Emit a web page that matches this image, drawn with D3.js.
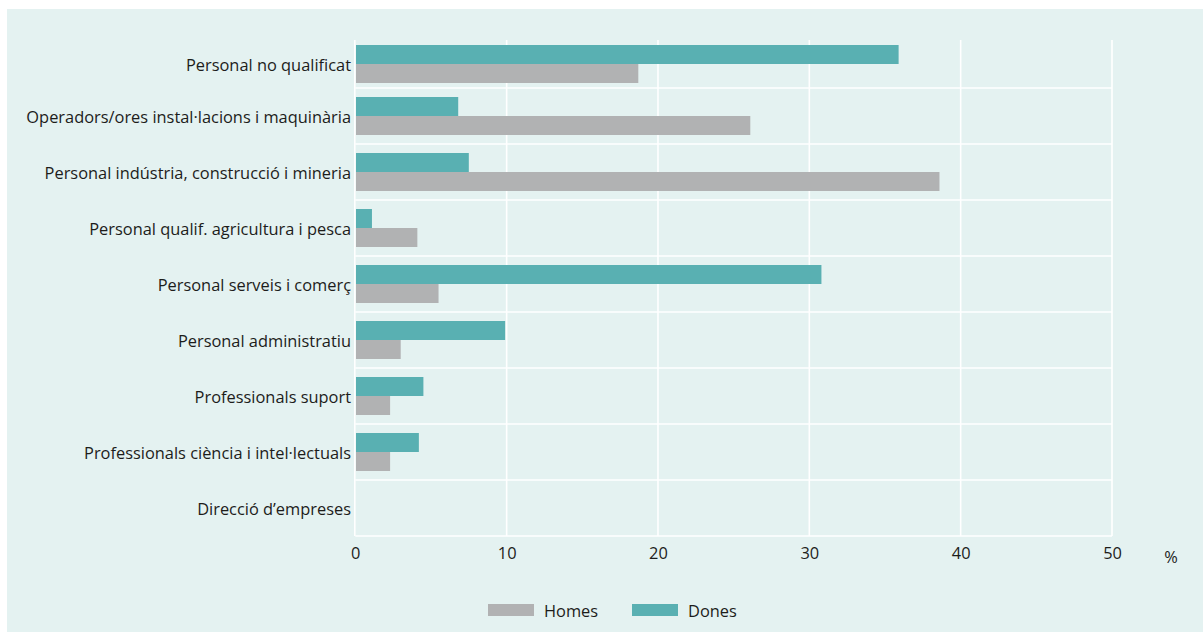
<!DOCTYPE html>
<html>
<head>
<meta charset="utf-8">
<script src="https://cdn.jsdelivr.net/npm/d3@7/dist/d3.min.js"></script>
<style>
  html, body { margin: 0; padding: 0; background: #ffffff; }
  svg { display: block; }
  text { font-family: "Open Sans", "Noto Sans", sans-serif; fill: #1d1d1b; }
</style>
</head>
<body>
<svg id="chart" width="1203" height="632"></svg>
<script>
const categories = [
  "Personal no qualificat",
  "Operadors/ores instal·lacions i maquinària",
  "Personal indústria, construcció i mineria",
  "Personal qualif. agricultura i pesca",
  "Personal serveis i comerç",
  "Personal administratiu",
  "Professionals suport",
  "Professionals ciència i intel·lectuals",
  "Direcció d’empreses"
];
const seriesNames = ["Dones", "Homes"];
const dones = [35.9, 6.8, 7.5, 1.1, 30.8, 9.9, 4.5, 4.2, 0];
const homes = [18.7, 26.1, 38.6, 4.1, 5.5, 3.0, 2.3, 2.3, 0];
const xTicks = [0, 10, 20, 30, 40, 50];
const legendItems = ["Homes", "Dones"];

const colors = { Homes: "#b1b2b3", Dones: "#59b0b2" };
const FS = 16.4;

const svg = d3.select("#chart");
const W = 1203, H = 632;

// panel background
svg.append("rect").attr("x", 7).attr("y", 9).attr("width", W - 7).attr("height", H - 9)
  .attr("fill", "#e4f2f1");

const plotTop = 40, plotBottom = 536;
const x = d3.scaleLinear().domain([0, 50]).range([355.3, 1112]);
const y = d3.scaleBand().domain(categories).range([32, 536]).paddingInner(0).paddingOuter(0);
const step = y.step();
const rowTop = c => Math.max(y(c), plotTop);
const rowCenter = c => (rowTop(c) + y(c) + step) / 2;
const barH = 19;

// vertical gridlines
svg.append("g").selectAll("line").data(xTicks.slice(1)).join("line")
  .attr("x1", d => x(d)).attr("x2", d => x(d))
  .attr("y1", plotTop).attr("y2", plotBottom)
  .attr("stroke", "#ffffff").attr("stroke-width", 1.6);

// horizontal gridlines (row boundaries)
svg.append("g").selectAll("line").data(categories).join("line")
  .attr("x1", x(0)).attr("x2", x(50))
  .attr("y1", d => y(d) + step).attr("y2", d => y(d) + step)
  .attr("stroke", "#ffffff").attr("stroke-width", 1.6);

// bars
const rows = categories.map((c, i) => ({ c, Dones: dones[i], Homes: homes[i] }));
const g = svg.append("g");
g.selectAll("rect.d").data(rows).join("rect").attr("class", "d")
  .attr("x", x(0) + 0.7).attr("y", d => rowCenter(d.c) - barH)
  .attr("width", d => Math.max(0, x(d.Dones) - x(0) - 0.7)).attr("height", barH)
  .attr("fill", colors.Dones);
g.selectAll("rect.h").data(rows).join("rect").attr("class", "h")
  .attr("x", x(0) + 0.7).attr("y", d => rowCenter(d.c))
  .attr("width", d => Math.max(0, x(d.Homes) - x(0) - 0.7)).attr("height", barH)
  .attr("fill", colors.Homes);

// zero axis line
svg.append("line").attr("x1", x(0) - 0.5).attr("x2", x(0) - 0.5)
  .attr("y1", plotTop).attr("y2", plotBottom)
  .attr("stroke", "#ffffff").attr("stroke-width", 1.6);

// category labels
svg.append("g").selectAll("text").data(categories).join("text")
  .attr("x", 351).attr("y", d => rowCenter(d))
  .attr("text-anchor", "end").attr("dominant-baseline", "central")
  .attr("font-size", FS).text(d => d);

// x tick labels via axis
const xAxis = d3.axisBottom(x).tickValues(xTicks).tickSize(0).tickPadding(0);
const ax = svg.append("g").attr("transform", `translate(0,${547})`).call(xAxis);
ax.select(".domain").remove();
ax.selectAll("text").attr("font-size", FS).attr("fill", "#1d1d1b")
  .style("font-family", '"Open Sans", "Noto Sans", sans-serif');

svg.append("text").attr("x", 1171).attr("y", 556).attr("text-anchor", "middle")
  .attr("dominant-baseline", "central").attr("font-size", FS).text("%");

// legend
const legendX = [488, 632];
const lg = svg.append("g");
legendItems.forEach((name, i) => {
  lg.append("rect").attr("x", legendX[i]).attr("y", 604).attr("width", 46).attr("height", 12)
    .attr("fill", colors[name]);
  lg.append("text").attr("x", legendX[i] + 56).attr("y", 610)
    .attr("dominant-baseline", "central").attr("font-size", FS).text(name);
});
</script>
</body>
</html>
